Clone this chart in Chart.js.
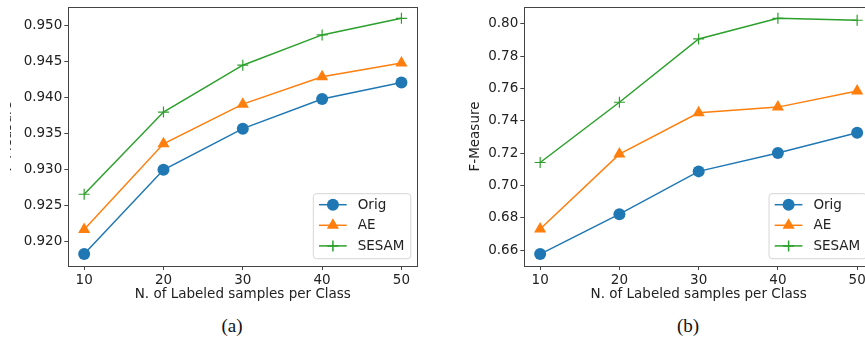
<!DOCTYPE html>
<html>
<head>
<meta charset="utf-8">
<script src="https://cdn.jsdelivr.net/npm/chart.js@4.4.1/dist/chart.umd.min.js"></script>
<style>
  html, body { margin: 0; padding: 0; background: #fff; overflow: hidden; width: 865px; height: 343px; }
  #wrapA { position: absolute; left: 10px; top: 0; width: 420px; height: 343px; overflow: hidden; }
  #chartA { position: absolute; left: -20px; top: 0; }
  #chartB { position: absolute; left: 430px; top: 0; }
  .caption { position: absolute; top: 315px; width: 60px; text-align: center;
             font-family: "Liberation Serif", serif; font-size: 19px; color: #111; }
</style>
</head>
<body>
<div id="wrapA"><canvas id="chartA" width="440" height="307"></canvas></div>
<canvas id="chartB" width="450" height="307"></canvas>
<div class="caption" style="left:202px">(a)</div>
<div class="caption" style="left:658px">(b)</div>
<script>
// x values (labeled samples per class)
const samples = [10, 20, 30, 40, 50];

// (a)
const origA  = [0.9183, 0.9300, 0.9357, 0.9398, 0.9421];
const aeA    = [0.9217, 0.9336, 0.9391, 0.9429, 0.9448];
const sesamA = [0.9266, 0.9380, 0.9445, 0.9487, 0.9510];
const yTicksA = [0.920, 0.925, 0.930, 0.935, 0.940, 0.945, 0.950];

// (b)
const origB  = [0.6575, 0.6822, 0.7087, 0.7201, 0.7326];
const aeB    = [0.6730, 0.7194, 0.7450, 0.7485, 0.7585];
const sesamB = [0.7142, 0.7515, 0.7907, 0.8035, 0.8023];
const yTicksB = [0.66, 0.68, 0.70, 0.72, 0.74, 0.76, 0.78, 0.80];

const seriesNames = ['Orig', 'AE', 'SESAM'];
const colors = ['#1f77b4', '#ff7f0e', '#2ca02c'];
const markers = ['circle', 'triangle', 'cross'];
const radii = [6, 7, 5.5];

const FONT = { family: 'DejaVu Sans', size: 13.5 };
const TXT = '#222';
const AXIS = '#444';

// frame around the plot area (matplotlib style spines)
const frame = {
  id: 'frame',
  afterDraw(chart) {
    const a = chart.chartArea, ctx = chart.ctx;
    ctx.save();
    ctx.strokeStyle = AXIS;
    ctx.lineWidth = 1;
    ctx.strokeRect(Math.round(a.left) + 0.5, Math.round(a.top) + 0.5,
                   Math.round(a.right - a.left), Math.round(a.bottom - a.top));
    ctx.restore();
  }
};

// legend drawn inside the plot, bottom right
const innerLegend = {
  id: 'innerLegend',
  afterDraw(chart) {
    const a = chart.chartArea, ctx = chart.ctx;
    const w = 97.5, h = 65;
    const x0 = a.right - 6.5 - w, y0 = a.bottom - 7.3 - h;
    ctx.save();
    ctx.beginPath();
    ctx.roundRect(x0, y0, w, h, 3);
    ctx.fillStyle = 'rgba(255,255,255,0.85)';
    ctx.fill();
    ctx.strokeStyle = '#d6d6d6';
    ctx.lineWidth = 1;
    ctx.stroke();
    chart.data.datasets.forEach((ds, i) => {
      const cy = y0 + 11 + i * 20.6;
      ctx.strokeStyle = ds.borderColor;
      ctx.lineWidth = 1.5;
      ctx.beginPath();
      ctx.moveTo(x0 + 5.7, cy);
      ctx.lineTo(x0 + 33.4, cy);
      ctx.stroke();
      ctx.fillStyle = ds.backgroundColor;
      ctx.strokeStyle = ds.borderColor;
      Chart.helpers.drawPoint(ctx, {
        pointStyle: ds.pointStyle, radius: ds.pointRadius, rotation: 0,
        borderWidth: ds.pointStyle === 'cross' ? 1.2 : 0
      }, x0 + 19.6, cy);
      ctx.fillStyle = TXT;
      ctx.font = FONT.size + 'px ' + FONT.family;
      ctx.textBaseline = 'middle';
      ctx.textAlign = 'left';
      ctx.fillText(ds.label, x0 + 44.4, cy + 0.5);
    });
    ctx.restore();
  }
};

function makeDatasets(seriesList) {
  return seriesList.map((vals, i) => ({
    label: seriesNames[i],
    data: samples.map((x, j) => ({ x: x, y: vals[j] })),
    borderColor: colors[i],
    backgroundColor: colors[i],
    borderWidth: 1.5,
    pointStyle: markers[i],
    pointRadius: radii[i],
    pointHoverRadius: radii[i],
    pointBorderWidth: markers[i] === 'cross' ? 1.2 : 0,
    tension: 0
  }));
}

function makeChart(id, seriesList, yMin, yMax, yTicks, digits, yWidth, pad) {
  return new Chart(document.getElementById(id).getContext('2d'), {
    type: 'line',
    data: { datasets: makeDatasets(seriesList) },
    plugins: [frame, innerLegend],
    options: {
      responsive: false,
      animation: false,
      devicePixelRatio: 1,
      layout: { padding: pad },
      plugins: { legend: { display: false }, tooltip: { enabled: false } },
      scales: {
        x: {
          type: 'linear',
          min: 8, max: 52,
          afterBuildTicks: s => { s.ticks = samples.map(v => ({ value: v })); },
          afterFit: s => { s.height = 41; s.paddingLeft = 0; s.paddingRight = 0; },
          ticks: { color: TXT, font: FONT, padding: 2, maxRotation: 0 },
          grid: { drawOnChartArea: false, drawTicks: true, tickLength: 4, color: AXIS },
          border: { display: true, color: AXIS },
          title: { display: true, text: 'N. of Labeled samples per Class', color: TXT, font: FONT, padding: { top: 4, bottom: 4 } }
        },
        y: {
          type: 'linear',
          min: yMin, max: yMax,
          afterBuildTicks: s => { s.ticks = yTicks.map(v => ({ value: v })); },
          afterFit: s => { s.width = yWidth; s.paddingTop = 0; s.paddingBottom = 0; },
          ticks: { color: TXT, font: FONT, padding: 2, callback: v => v.toFixed(digits) },
          grid: { drawOnChartArea: false, drawTicks: true, tickLength: 4, color: AXIS },
          border: { display: true, color: AXIS },
          title: { display: true, text: 'F-Measure', color: TXT, font: FONT, padding: { top: 4, bottom: 4 } }
        }
      }
    }
  });
}

makeChart('chartA', [origA, aeA, sesamA], 0.91665, 0.95257, yTicksA, 3, 72.6,
          { left: 5.7, top: 5.5, right: 12.7, bottom: 0 });
makeChart('chartB', [origB, aeB, sesamB], 0.6501, 0.8105, yTicksB, 2, 60.6,
          { left: 33.7, top: 6, right: 7, bottom: 0 });
</script>
</body>
</html>
